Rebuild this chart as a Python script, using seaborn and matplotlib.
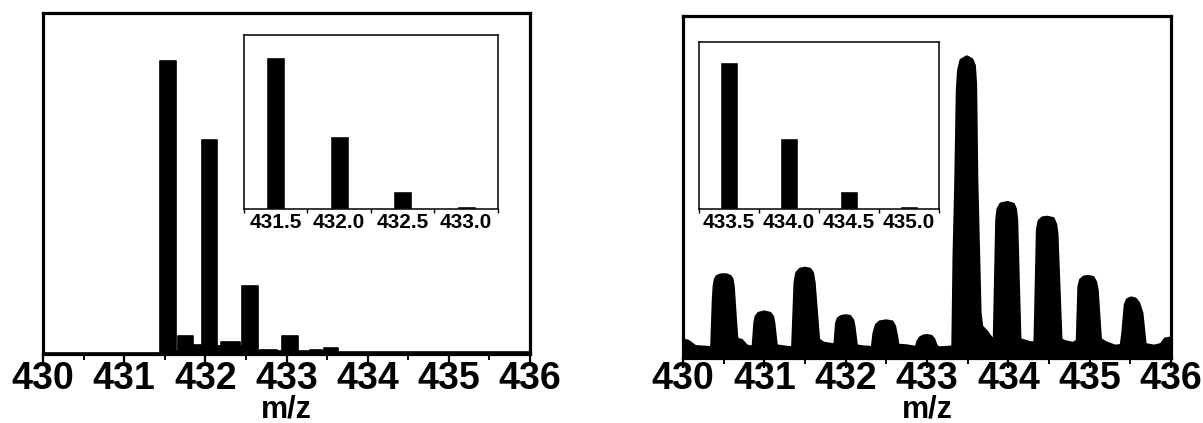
import numpy as np
import pandas as pd
import matplotlib
matplotlib.use("Agg")
import matplotlib.pyplot as plt
import seaborn as sns
from matplotlib.ticker import MultipleLocator, FixedLocator, NullFormatter

# ---------------- data ----------------
# Left spectrum: stepped profile (bin edges in m/z, relative intensity per bin)
left_edges = [430.0, 431.44, 431.64, 431.665, 431.85, 431.955, 432.145, 432.19,
              432.43, 432.45, 432.65, 432.67, 432.88, 432.95, 433.145, 433.29,
              433.44, 433.46, 433.64, 436.0]
left_heights = [0.4, 86.0, 0.8, 5.2, 2.6, 62.8, 2.2, 3.4, 2.4, 19.8, 1.0, 1.3,
                1.0, 5.2, 1.0, 1.2, 1.0, 1.7, 0.6]

# Left inset (theoretical isotope pattern)
left_inset_labels = ["431.5", "432.0", "432.5", "433.0"]
left_inset_values = [100, 48, 11.8, 1.8]

# Right spectrum: profile
right_mz = [430.00, 430.065, 430.15, 430.33, 430.355,
            430.375, 430.385, 430.40, 430.42, 430.46, 430.50, 430.54, 430.58, 430.60, 430.615, 430.64,
            430.66, 430.72, 430.78, 430.845, 430.865,
            430.885, 430.90, 430.93, 431.00, 431.07, 431.10, 431.115,
            431.145, 431.21, 431.30, 431.35,
            431.365, 431.38, 431.40, 431.44, 431.50, 431.56, 431.59, 431.61,
            431.665, 431.725, 431.85, 431.87,
            431.89, 431.91, 431.95, 432.00, 432.05, 432.085, 432.10,
            432.13, 432.21, 432.33,
            432.35, 432.38, 432.42, 432.50, 432.57, 432.60, 432.63,
            432.64, 432.75, 432.87,
            432.89, 432.92, 432.96, 433.00, 433.05, 433.08,
            433.11, 433.14, 433.28, 433.32,
            433.335, 433.355, 433.375, 433.39, 433.42, 433.49, 433.55, 433.58, 433.595, 433.61,
            433.65, 433.67, 433.73, 433.775, 433.80, 433.83,
            433.86, 433.875, 433.91, 433.99, 434.06, 434.085, 434.10,
            434.14, 434.205, 434.27, 434.33,
            434.36, 434.38, 434.42, 434.48, 434.55, 434.58, 434.595,
            434.645, 434.70, 434.80, 434.85,
            434.87, 434.89, 434.93, 434.98, 435.04, 435.07, 435.09,
            435.13, 435.20, 435.31, 435.39,
            435.41, 435.44, 435.465, 435.51, 435.56, 435.60, 435.64,
            435.68, 435.79, 435.88, 435.93, 436.00]
right_int = [5.3, 4.8, 3.3, 3.0, 3.1,
             17.0, 21.0, 23.0, 23.8, 24.2, 24.3, 24.2, 23.8, 23.0, 21.0, 12.1,
             5.5, 5.1, 3.5, 3.1, 3.3,
             10.1, 12.0, 13.0, 13.4, 13.0, 12.0, 10.1,
             3.5, 3.3, 3.0, 3.0,
             12.1, 22.0, 24.8, 25.9, 26.2, 25.9, 24.8, 22.0,
             5.3, 4.3, 3.8, 3.8,
             10.1, 11.5, 12.1, 12.3, 12.1, 11.0, 9.2,
             3.5, 3.2, 3.0,
             7.2, 9.6, 10.5, 10.8, 10.5, 9.2, 5.5,
             3.7, 3.5, 3.0,
             4.8, 5.9, 6.4, 6.5, 6.3, 5.5,
             3.6, 2.9, 3.1, 3.2,
             30.0, 50.0, 78.0, 84.0, 87.0, 88.0, 87.2, 85.5, 80.0, 52.0,
             13.1, 9.2, 7.7, 6.2, 5.5, 5.7,
             40.4, 43.5, 45.0, 45.4, 44.9, 43.5, 40.4,
             5.3, 4.9, 4.4, 4.4,
             37.4, 40.0, 40.9, 41.1, 40.7, 39.0, 36.4,
             5.3, 4.7, 4.2, 5.0,
             20.9, 22.8, 23.6, 23.8, 23.5, 22.2, 19.9,
             5.4, 4.4, 3.4, 3.6,
             7.3, 15.5, 17.0, 17.5, 17.2, 16.0, 13.1,
             3.9, 3.4, 3.9, 5.5, 5.8]

# Right inset
right_inset_labels = ["433.5", "434.0", "434.5", "435.0"]
right_inset_values = [100, 48.6, 12.5, 2.3]

main_ticks = [430, 431, 432, 433, 434, 435, 436]

# ---------------- style ----------------
sns.set_theme(style="ticks")
plt.rcParams["font.family"] = ["Liberation Sans", "DejaVu Sans"]
plt.rcParams["font.weight"] = "bold"

W, H = 1203, 423
fig = plt.figure(figsize=(W / 100, H / 100), dpi=100)
fig.patch.set_facecolor("white")


def px_axes(l, t, r, b):
    return fig.add_axes([l / W, 1 - b / H, (r - l) / W, (b - t) / H])


def style_main(ax, label_y, pad):
    ax.set_xlim(430, 436)
    ax.set_ylim(0, 100)
    ax.set_xticks(main_ticks)
    ax.set_xticklabels([str(t) for t in main_ticks])
    ax.xaxis.set_minor_locator(MultipleLocator(0.5))
    ax.set_yticks([])
    ax.tick_params(axis="x", which="major", direction="out", length=7, width=1.6,
                   labelsize=27, pad=pad, color="black", labelcolor="black")
    ax.tick_params(axis="x", which="minor", direction="out", length=4, width=1.4,
                   color="black")
    for s in ax.spines.values():
        s.set_visible(True)
        s.set_linewidth(2.3)
        s.set_color("black")
    ax.set_ylabel("")
    ax.set_xlabel("m/z", fontsize=22, fontweight="bold", color="black")
    ax.xaxis.label.set_va("baseline")
    ax.xaxis.set_label_coords(0.5, label_y)
    ax.set_facecolor("white")


def style_inset(ax, labels, values, ymax):
    sns.barplot(x=labels, y=values, width=0.3, color="black", saturation=1,
                ax=ax)
    ax.set_xlim(-0.5, len(labels) - 0.5)
    ax.set_ylim(0, ymax)
    ax.set_yticks([])
    ax.xaxis.set_minor_locator(FixedLocator(np.arange(len(labels) + 1) - 0.5))
    ax.xaxis.set_minor_formatter(NullFormatter())
    ax.tick_params(axis="x", which="major", length=0, labelsize=15, pad=3,
                   labelcolor="black")
    ax.tick_params(axis="x", which="minor", direction="out", length=3,
                   width=1.0, color="black")
    for s in ax.spines.values():
        s.set_visible(True)
        s.set_linewidth(1.1)
        s.set_color("black")
    ax.set_xlabel("")
    ax.set_ylabel("")
    ax.set_facecolor("white")


# ---------------- left panel ----------------
axL = px_axes(43, 13, 530, 354)
left_centers = list(np.add(left_edges[:-1], left_edges[1:]) / 2)
sns.histplot(x=left_centers, weights=left_heights, bins=left_edges,
             element="step", fill=True, color="black", alpha=1, linewidth=1.2,
             edgecolor="black", ax=axL)
style_main(axL, -0.185, -2)

axLi = px_axes(244, 35, 498, 209)
style_inset(axLi, left_inset_labels, left_inset_values, 114.5)

# ---------------- right panel ----------------
axR = px_axes(683, 16, 1171, 358)
axR.fill_between(right_mz, 0, right_int, color="black", linewidth=0)
sns.lineplot(x=right_mz, y=right_int, sort=False, estimator=None, color="black",
             linewidth=2.5, ax=axR)
for ln in axR.lines:
    ln.set_solid_joinstyle("round")
    ln.set_solid_capstyle("round")
style_main(axR, -0.175, -4.5)

axRi = px_axes(699, 42, 939, 209)
style_inset(axRi, right_inset_labels, right_inset_values, 113.9)

fig.savefig("out.png", dpi=100, facecolor="white")
